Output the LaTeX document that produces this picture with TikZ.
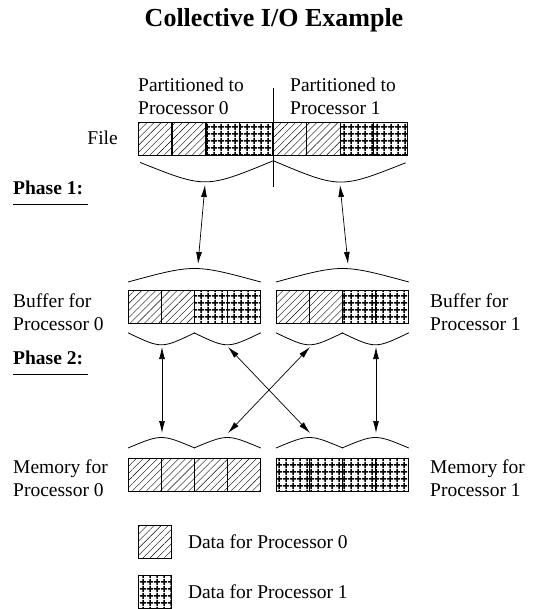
\documentclass[tikz,border=0pt]{standalone}
\usepackage{fontspec}
\setmainfont{Liberation Serif}
\usepackage{tikz}
\usetikzlibrary{arrows.meta,positioning,calc,patterns.meta}

\tikzset{
  lbl/.style={font=\fontsize{19.5}{23}\selectfont, inner sep=0pt, align=left},
  p0cell/.style={draw, line width=0.8pt, minimum width=33pt, minimum height=33pt, inner sep=0pt,
    pattern={Lines[angle=45,distance=5pt,line width=0.4pt]}},
  p1cell/.style={draw, line width=0.8pt, minimum width=33pt, minimum height=33pt, inner sep=0pt,
    pattern={Hatch[angle=0,distance=6.5pt,line width=1.6pt]}},
  brace/.style={line width=0.8pt},
  link/.style={{Latex[length=12pt,width=6pt]}-{Latex[length=12pt,width=6pt]}, line width=0.7pt}
}

\begin{document}
\begin{tikzpicture}[x=1pt, y=-1pt]
\useasboundingbox (0,0) rectangle (532,609);

\node[font=\fontsize{26}{30}\selectfont\bfseries] (title) at (274,20) {Collective I/O Example};

% the file
\node[lbl, anchor=west] (part0) at (138,96) {Partitioned to\\Processor 0};
\node[lbl, anchor=west] (part1) at (290,96) {Partitioned to\\Processor 1};
\node[lbl, anchor=east] (file) at (118,138) {File};
\foreach \i/\p in {0/p0cell,1/p0cell,2/p1cell,3/p1cell,4/p0cell,5/p0cell,6/p1cell,7/p1cell}
  \node[\p, anchor=north west, minimum width=33.6pt] (f\i) at (138+33.6*\i,122) {};
\coordinate (divtop) at (273,88);
\coordinate (divbot) at (273,187);
\draw[line width=0.8pt] (divtop) -- (divbot);
\draw[brace] ($(f0.south west)+(2,7)$) .. controls ($(f0.south west)!.5!(f3.south east)+(0,33)$) .. ($(f3.south east)+(0,5)$);
\draw[brace] ($(f4.south west)+(1,5)$) .. controls ($(f4.south west)!.5!(f7.south east)+(0,33)$) .. ($(f7.south east)+(-2,7)$);

\node[lbl, font=\fontsize{19.5}{23}\selectfont\bfseries, anchor=west] (ph1) at (13,188) {Phase 1:};
\draw[line width=0.8pt] ([yshift=-9pt]ph1.south west) -- ([xshift=5pt,yshift=-9pt]ph1.south east);

% phase 1 arrows
\coordinate (a1s) at (205,185);
\coordinate (a1e) at (198,264);
\coordinate (a2s) at (340,185);
\coordinate (a2e) at (348,264);
\draw[link] (a1s) -- (a1e);
\draw[link] (a2s) -- (a2e);

% the buffers
\foreach \i/\p in {0/p0cell,1/p0cell,2/p1cell,3/p1cell} {
  \node[\p, anchor=north west] (bl\i) at (128+33*\i,290) {};
  \node[\p, anchor=north west] (br\i) at (276+33*\i,290) {};
}
\draw[brace] ($(bl0.north west)+(0,-8)$) .. controls ($(bl0.north west)!.5!(bl3.north east)+(0,-26)$) .. ($(bl3.north east)+(0,-8)$);
\draw[brace] ($(br0.north west)+(0,-8)$) .. controls ($(br0.north west)!.5!(br3.north east)+(0,-26)$) .. ($(br3.north east)+(0,-8)$);
\draw[brace] ($(bl0.south west)+(0,9)$) .. controls ($(bl0.south west)!.5!(bl1.south east)+(0,25)$) .. ($(bl1.south east)+(0,9)$);
\draw[brace] ($(bl2.south west)+(0,9)$) .. controls ($(bl2.south west)!.5!(bl3.south east)+(0,25)$) .. ($(bl3.south east)+(0,9)$);
\draw[brace] ($(br0.south west)+(0,9)$) .. controls ($(br0.south west)!.5!(br1.south east)+(0,25)$) .. ($(br1.south east)+(0,9)$);
\draw[brace] ($(br2.south west)+(0,9)$) .. controls ($(br2.south west)!.5!(br3.south east)+(0,25)$) .. ($(br3.south east)+(0,9)$);
\node[lbl, anchor=west] (bufl) at (13,312) {Buffer for\\Processor 0};
\node[lbl, anchor=west] (bufr) at (430,312) {Buffer for\\Processor 1};

\node[lbl, font=\fontsize{19.5}{23}\selectfont\bfseries, anchor=west] (ph2) at (13,358) {Phase 2:};
\draw[line width=0.8pt] ([yshift=-9pt]ph2.south west) -- ([xshift=5pt,yshift=-9pt]ph2.south east);

% phase 2 arrows
\coordinate (b1s) at (162,347);
\coordinate (b1e) at (162,433);
\coordinate (b2s) at (376,347);
\coordinate (b2e) at (376,433);
\coordinate (c1s) at (228,347);
\coordinate (c1e) at (310,433);
\coordinate (c2s) at (310,347);
\coordinate (c2e) at (228,433);
\draw[link] (b1s) -- (b1e);
\draw[link] (b2s) -- (b2e);
\draw[link] (c1s) -- (c1e);
\draw[link] (c2s) -- (c2e);

% the memories
\foreach \i in {0,...,3} {
  \node[p0cell, anchor=north west] (ml\i) at (128+33*\i,458) {};
  \node[p1cell, anchor=north west] (mr\i) at (276+33*\i,458) {};
}
\draw[brace] ($(ml0.north west)+(0,-10)$) .. controls ($(ml0.north west)!.5!(ml1.north east)+(0,-24)$) .. ($(ml1.north east)+(0,-10)$);
\draw[brace] ($(ml2.north west)+(0,-10)$) .. controls ($(ml2.north west)!.5!(ml3.north east)+(0,-24)$) .. ($(ml3.north east)+(0,-10)$);
\draw[brace] ($(mr0.north west)+(0,-10)$) .. controls ($(mr0.north west)!.5!(mr1.north east)+(0,-24)$) .. ($(mr1.north east)+(0,-10)$);
\draw[brace] ($(mr2.north west)+(0,-10)$) .. controls ($(mr2.north west)!.5!(mr3.north east)+(0,-24)$) .. ($(mr3.north east)+(0,-10)$);
\node[lbl, anchor=west] (meml) at (13,478) {Memory for\\Processor 0};
\node[lbl, anchor=west] (memr) at (430,478) {Memory for\\Processor 1};

% key
\node[p0cell, anchor=north west] (key0) at (138,525) {};
\node[lbl, right=16pt of key0] (key0txt) {Data for Processor 0};
\node[p1cell, anchor=north west] (key1) at (138,575) {};
\node[lbl, right=16pt of key1] (key1txt) {Data for Processor 1};

\end{tikzpicture}
\end{document}
